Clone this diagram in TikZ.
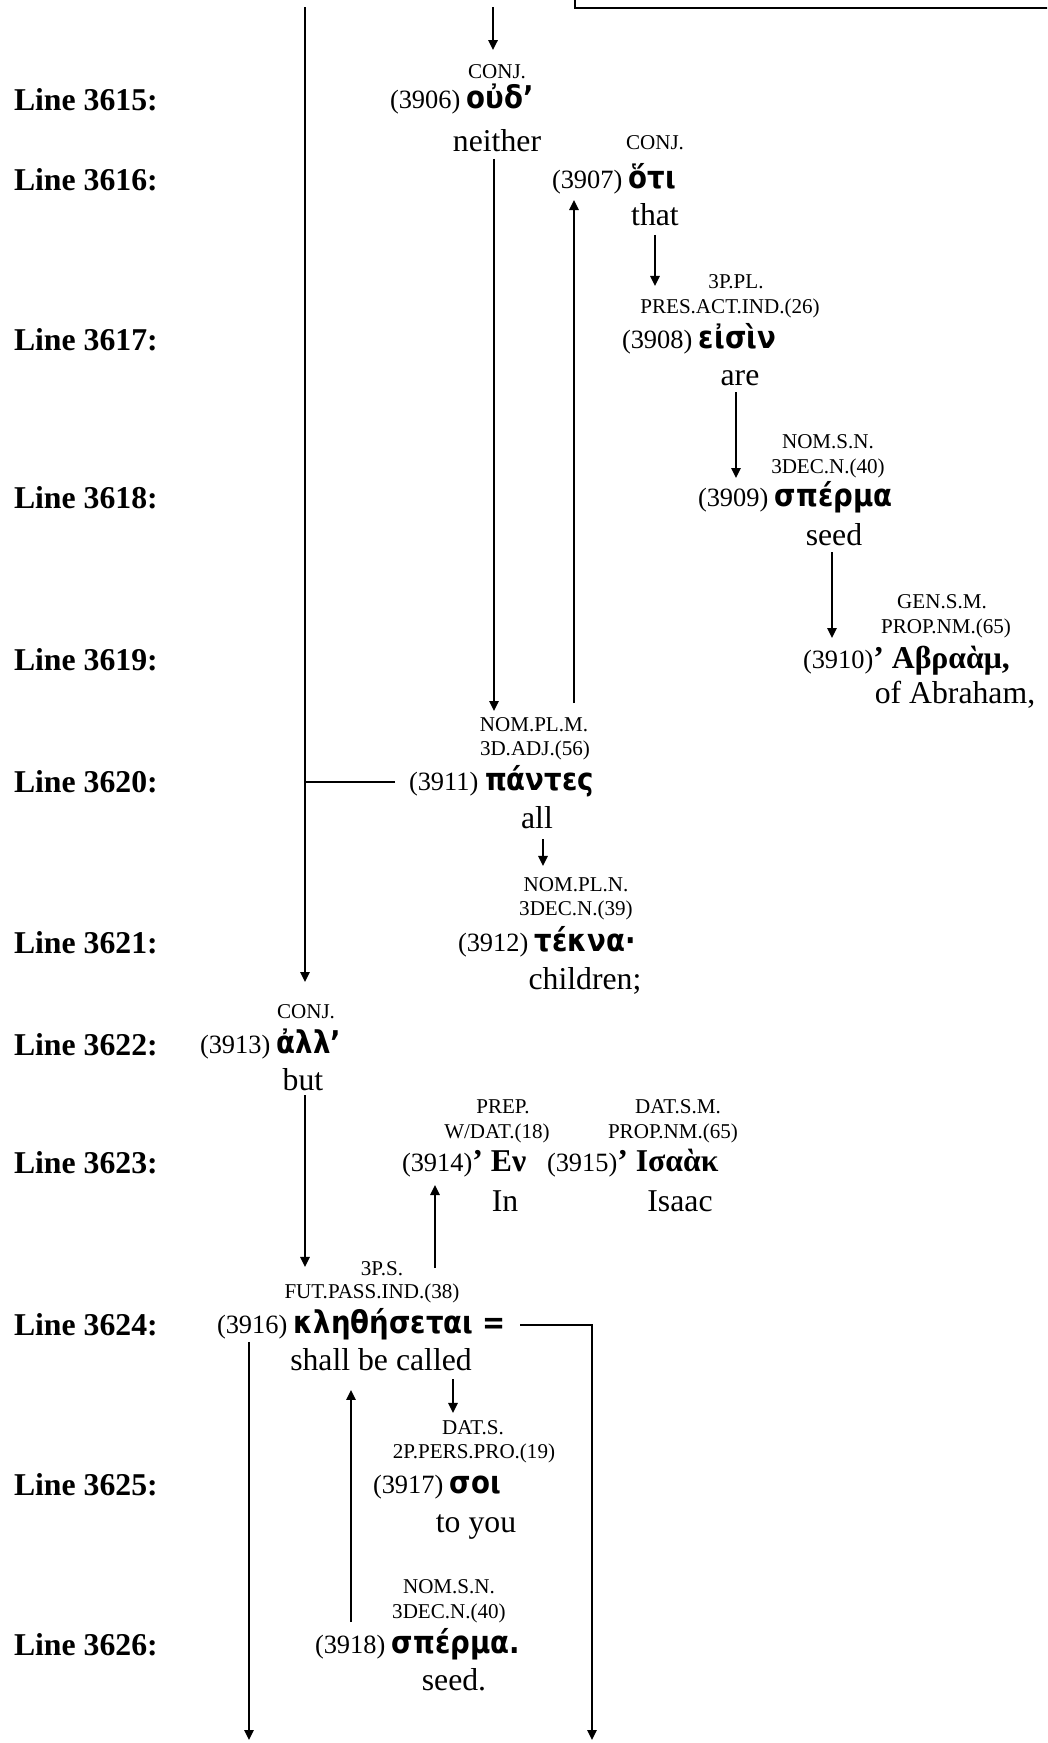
\documentclass[tikz,border=0pt]{standalone}
\usepackage{fontspec}
\setmainfont{Liberation Serif}
\newfontfamily\grkfont[FakeStretch=0.88]{DejaVu Sans Bold}
\usetikzlibrary{arrows.meta}
\newcommand\numfont{\fontsize{19.8}{23}\selectfont}
\newcommand\glossfont{\fontsize{23.8}{28}\selectfont}
\newcommand\labfont{\fontsize{15.8}{19}\selectfont}
\newcommand\linefont{\fontsize{23.8}{28}\selectfont\bfseries}
\newcommand\grk{\grkfont\fontsize{23.5}{27}\selectfont}
\newcommand\gbf{\glossfont\bfseries}
\tikzset{
  lnlab/.style={inner sep=0pt, outer sep=0pt, text height=15.7pt, text depth=0pt, font=\linefont, anchor=west},
  lab/.style={inner sep=0pt, outer sep=0pt, text height=10.4pt, text depth=0pt, font=\labfont, anchor=center},
  wrd/.style={inner sep=0pt, outer sep=0pt, text height=13pt, text depth=0pt, font=\numfont, anchor=west},
  gl/.style={inner sep=0pt, outer sep=0pt, text height=15.7pt, text depth=0pt, font=\glossfont, anchor=center},
  conn/.style={line width=1.5pt},
  arr/.style={conn, -{Triangle[width=7pt,length=7.5pt]}},
  boxline/.style={line width=2.2pt}
}
\begin{document}
\begin{tikzpicture}[x=0.75pt,y=-0.75pt]
\useasboundingbox (0,0) rectangle (1047,1743);
\begin{scope}
\clip (0,0) rectangle (1047,1743);
\draw[boxline] (575,-20) -- (575,8) -- (1070,8);
\end{scope}
% line labels
\node[lnlab] (L3615) at (14,100) {Line 3615:};
\node[lnlab] (L3616) at (14,180) {Line 3616:};
\node[lnlab] (L3617) at (14,340) {Line 3617:};
\node[lnlab] (L3618) at (14,498) {Line 3618:};
\node[lnlab] (L3619) at (14,660) {Line 3619:};
\node[lnlab] (L3620) at (14,782) {Line 3620:};
\node[lnlab] (L3621) at (14,943) {Line 3621:};
\node[lnlab] (L3622) at (14,1045) {Line 3622:};
\node[lnlab] (L3623) at (14,1163) {Line 3623:};
\node[lnlab] (L3624) at (14,1325) {Line 3624:};
\node[lnlab] (L3625) at (14,1485) {Line 3625:};
\node[lnlab] (L3626) at (14,1645) {Line 3626:};
% grammatical labels
\node[lab] (l3906) at (497,72) {CONJ.};
\node[lab] (l3907) at (655,143) {CONJ.};
\node[lab] (l3908a) at (736,282) {3P.PL.};
\node[lab] (l3908b) at (730,307) {PRES.ACT.IND.(26)};
\node[lab] (l3909a) at (828,442) {NOM.S.N.};
\node[lab] (l3909b) at (828,467) {3DEC.N.(40)};
\node[lab] (l3910a) at (942,602) {GEN.S.M.};
\node[lab] (l3910b) at (946,627) {PROP.NM.(65)};
\node[lab] (l3911a) at (534,725) {NOM.PL.M.};
\node[lab] (l3911b) at (535,749) {3D.ADJ.(56)};
\node[lab] (l3912a) at (576,885) {NOM.PL.N.};
\node[lab] (l3912b) at (576,909) {3DEC.N.(39)};
\node[lab] (l3913) at (306,1012) {CONJ.};
\node[lab] (l3914a) at (503,1107) {PREP.};
\node[lab] (l3914b) at (497,1132) {W/DAT.(18)};
\node[lab] (l3915a) at (678,1107) {DAT.S.M.};
\node[lab] (l3915b) at (673,1132) {PROP.NM.(65)};
\node[lab] (l3916a) at (382,1269) {3P.S.};
\node[lab] (l3916b) at (372,1292) {FUT.PASS.IND.(38)};
\node[lab] (l3917a) at (473,1428) {DAT.S.};
\node[lab] (l3917b) at (474,1452) {2P.PERS.PRO.(19)};
\node[lab] (l3918a) at (449,1587) {NOM.S.N.};
\node[lab] (l3918b) at (449,1612) {3DEC.N.(40)};
% words
\node[wrd] (w3906) at (390,100) {(3906) {\grk οὐδ’}};
\node[wrd] (w3907) at (552,180) {(3907) {\grk ὅτι}};
\node[wrd] (w3908) at (622,340) {(3908) {\grk εἰσὶν}};
\node[wrd] (w3909) at (698,498) {(3909) {\grk σπέρμα}};
\node[wrd] (w3910) at (803,660) {(3910){\gbf ’ Αβραὰμ,}};
\node[wrd] (w3911) at (409,782) {(3911) {\grk πάντες}};
\node[wrd] (w3912) at (458,943) {(3912) {\grk τέκνα·}};
\node[wrd] (w3913) at (200,1045) {(3913) {\grk ἀλλ’}};
\node[wrd] (w3914) at (402,1163) {(3914){\gbf ’ Εν}};
\node[wrd] (w3915) at (547,1163) {(3915){\gbf ’ Ισαὰκ}};
\node[wrd] (w3916) at (217,1325) {(3916) {\grk κληθήσεται =}};
\node[wrd] (w3917) at (373,1485) {(3917) {\grk σοι}};
\node[wrd] (w3918) at (315,1645) {(3918) {\grk σπέρμα.}};
% glosses
\node[gl] (g3906) at (497,141) {neither};
\node[gl] (g3907) at (655,215) {that};
\node[gl] (g3908) at (740,375) {are};
\node[gl] (g3909) at (834,535) {seed};
\node[gl] (g3910) at (955,693) {of Abraham,};
\node[gl] (g3911) at (537,818) {all};
\node[gl] (g3912) at (585,979) {children;};
\node[gl] (g3913) at (303,1080) {but};
\node[gl] (g3914) at (505,1201) {In};
\node[gl] (g3915) at (680,1201) {Isaac};
\node[gl] (g3916) at (381,1360) {shall be called};
\node[gl] (g3917) at (476,1522) {to you};
\node[gl] (g3918) at (454,1680) {seed.};
% connector coordinates
\coordinate (topA) at (493,7);
\coordinate (trunk) at (305,7);
\coordinate (xA2) at (494,0);
\coordinate (xA3) at (574,0);
\coordinate (xA4) at (655,0);
\coordinate (xA5) at (736,0);
\coordinate (xA6) at (832,0);
\coordinate (xA7) at (543,0);
\coordinate (xA11) at (435,0);
\coordinate (xA14) at (351,0);
\coordinate (xA15) at (453,0);
\coordinate (rbot) at (592,1740);
\coordinate (lbot) at (249,1740);
% connectors
\draw[arr, shorten >=11.25pt] (topA) -- (l3906.north -| topA);
\draw[arr, shorten <=5.6pt, shorten >=5.3pt] (g3906.south -| xA2) -- (l3911a.north -| xA2);
\draw[arr, shorten <=11.3pt, shorten >=8.5pt] (l3911a.north -| xA3) -- (w3907.south -| xA3);
\draw[arr, shorten <=7.1pt, shorten >=10.6pt] (g3907.south -| xA4) -- (l3908b.north -| xA4);
\draw[arr, shorten <=4.9pt, shorten >=8.5pt] (g3908.south -| xA5) -- (w3909.north -| xA5);
\draw[arr, shorten <=4.9pt, shorten >=10pt] (g3909.south -| xA6) -- (w3910.north -| xA6);
\draw[arr, shorten <=7.9pt, shorten >=9.1pt] (g3911.south -| xA7) -- (l3912a.north -| xA7);
\draw[arr, shorten >=17.3pt] (trunk) -- (l3913.north -| trunk);
\draw[conn, shorten <=10.5pt] (w3911.west) -- (w3911.west -| trunk);
\draw[arr, shorten <=3.4pt, shorten >=13.6pt] (g3913.south -| trunk) -- (l3916b.north -| trunk);
\draw[arr, shorten <=12.8pt, shorten >=10pt] (l3916b.north -| xA11) -- (w3914.south -| xA11);
\draw[arr, shorten <=10.5pt] (w3916.east) -| (rbot);
\draw[arr, shorten <=6.2pt] (w3916.south -| lbot) -- (lbot);
\draw[arr, shorten <=10.7pt, shorten >=14.6pt] (w3918.north -| xA14) -- (g3916.south -| xA14);
\draw[arr, shorten <=6.4pt, shorten >=6.1pt] (g3916.south -| xA15) -- (l3917a.north -| xA15);
\end{tikzpicture}
\end{document}
